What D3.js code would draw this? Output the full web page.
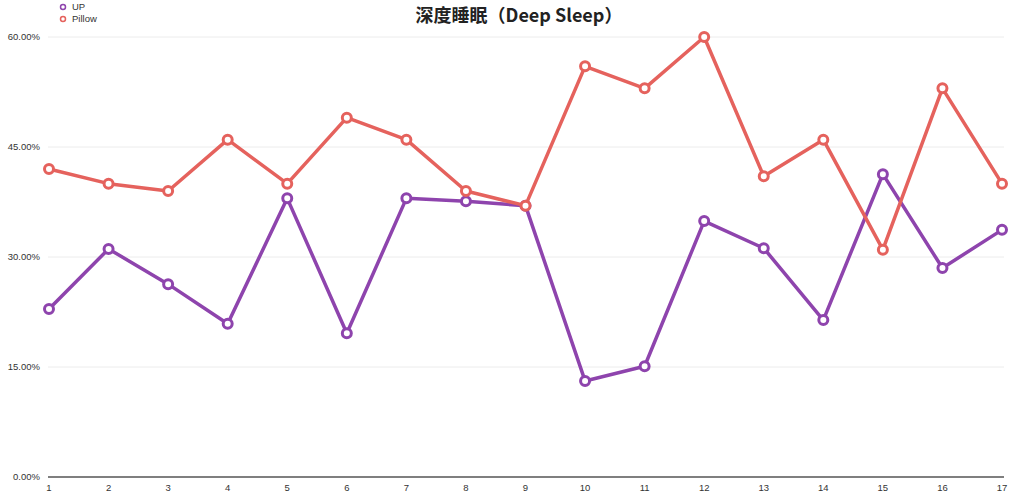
<!DOCTYPE html>
<html lang="zh">
<head>
    <meta charset="UTF-8">
    <title>深度睡眠</title>
    <script src="https://d3js.org/d3.v7.min.js"></script>
    <style>
        body { margin: 0; background: #fff; }
        .tick_text { font-family: "Liberation Sans", Arial, sans-serif; font-size: 9.5px; fill: #333; }
        .legend_text { font-family: "Liberation Sans", Arial, sans-serif; font-size: 9.5px; fill: #333; }
        .title { font-family: "Noto Sans CJK SC", sans-serif; font-size: 18px; font-weight: bold; fill: #222; }
    </style>
</head>
<body>
    <svg width="1016" height="500"></svg>
    <script>
        const days = d3.range(1, 18);
        const upValues = [22.9, 31.1, 26.3, 20.9, 38.0, 19.6, 38.0, 37.6, 37.0, 13.1, 15.1, 34.9, 31.2, 21.4, 41.3, 28.5, 33.7];
        const pillowValues = [42, 40, 39, 46, 40, 49, 46, 39, 37, 56, 53, 60, 41, 46, 31, 53, 40];
        const yTicks = [0, 15, 30, 45, 60];
        const seriesNames = ["UP", "Pillow"];
        const seriesColors = ["#8e44ad", "#e5625d"];

        const svg = d3.select("svg");
        const x = d3.scaleLinear().domain([1, 17]).range([49, 1002]);
        const y = d3.scaleLinear().domain([0, 60]).range([477, 37]);

        // grid
        svg.append("g").selectAll("line")
            .data(yTicks.filter(d => d > 0))
            .enter().append("line")
            .attr("x1", 48).attr("x2", 1004)
            .attr("y1", d => y(d)).attr("y2", d => y(d))
            .attr("stroke", "#ececec").attr("stroke-width", 1);

        // baseline
        svg.append("line")
            .attr("x1", 48).attr("x2", 1004)
            .attr("y1", y(0)).attr("y2", y(0))
            .attr("stroke", "#555").attr("stroke-width", 1.5);

        svg.append("g").selectAll("text")
            .data(yTicks)
            .enter().append("text")
            .attr("class", "tick_text")
            .attr("x", 40).attr("y", d => y(d) + 3)
            .attr("text-anchor", "end")
            .text(d => d.toFixed(2) + "%");

        svg.append("g").selectAll("text")
            .data(days)
            .enter().append("text")
            .attr("class", "tick_text")
            .attr("x", d => x(d)).attr("y", 491)
            .attr("text-anchor", "middle")
            .text(d => d);

        const line = d3.line().x((d, i) => x(days[i])).y(d => y(d));

        [upValues, pillowValues].forEach(function (vals, k) {
            const g = svg.append("g");
            g.append("path")
                .attr("d", line(vals))
                .attr("fill", "none")
                .attr("stroke", seriesColors[k])
                .attr("stroke-width", 3.5)
                .attr("stroke-linejoin", "round");
            g.selectAll("circle")
                .data(vals)
                .enter().append("circle")
                .attr("cx", (d, i) => x(days[i]))
                .attr("cy", d => y(d))
                .attr("r", 4.5)
                .attr("fill", "#fff")
                .attr("stroke", seriesColors[k])
                .attr("stroke-width", 3);
        });

        // legend
        const legend = svg.append("g");
        seriesNames.forEach(function (name, k) {
            legend.append("circle")
                .attr("cx", 63).attr("cy", 7 + k * 12)
                .attr("r", 2.5)
                .attr("fill", "#fff")
                .attr("stroke", seriesColors[k])
                .attr("stroke-width", 1.5);
            legend.append("text")
                .attr("class", "legend_text")
                .attr("x", 72).attr("y", 10 + k * 12)
                .text(name);
        });

        svg.append("text")
            .attr("class", "title")
            .attr("x", 519).attr("y", 22)
            .attr("text-anchor", "middle")
            .text("深度睡眠（Deep Sleep）");
    </script>
</body>
</html>
